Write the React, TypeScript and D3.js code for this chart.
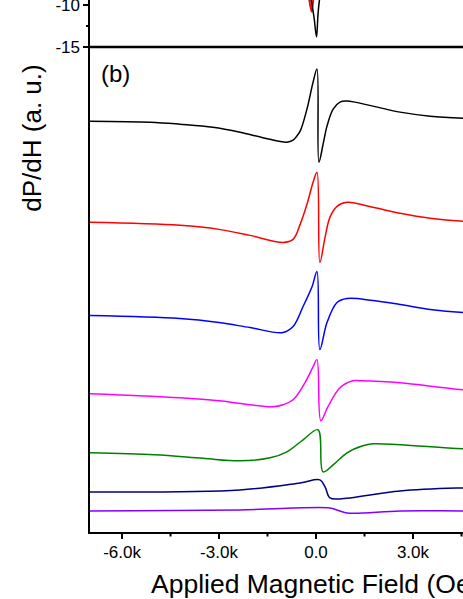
import React from 'react';
import * as d3 from 'd3';

const width = 463,
    height = 599,
    plotLeft = 89,
    plotRight = 542,
    bTop = 47,
    bBottom = 533,
    fontFamily = "Arial, 'Liberation Sans', sans-serif";

// applied field (Oe), dP/dH (a. u., offset stacked)
const trace1: [number, number][] = [
    [-7000, 41.1], [-5130, 41.0], [-4210, 40.8], [-3190, 40.5], [-2350, 40.0], [-1580, 39.4],
    [-900, 39.0], [-710, 39.2], [-620, 39.5], [-490, 40.1], [-280, 42.3], [-90, 45.0], [30, 46.3],
    [90, 37.0], [220, 38.8], [340, 40.6], [530, 42.3], [740, 43.0], [960, 43.1], [1760, 42.6],
    [2600, 42.0], [3530, 41.6], [4550, 41.4], [7000, 41.2],
];
const trace2: [number, number][] = [
    [-7000, 31.0], [-4210, 30.7], [-3000, 30.3], [-2040, 29.7], [-1020, 29.0], [-710, 29.3],
    [-490, 30.8], [-280, 32.8], [-90, 35.0], [30, 36.0], [120, 27.0], [280, 29.5], [430, 31.5],
    [650, 32.6], [960, 33.0], [1760, 32.5], [2600, 31.9], [3530, 31.4], [4550, 31.1], [7000, 30.9],
];
const trace3: [number, number][] = [
    [-7000, 21.7], [-4210, 21.4], [-3000, 21.0], [-2040, 20.5], [-1020, 20.0], [-710, 20.6],
    [-400, 22.6], [-120, 24.6], [30, 26.1], [120, 18.3], [340, 21.0], [650, 23.0], [960, 23.4],
    [1760, 23.2], [2600, 22.8], [3530, 22.3], [4550, 22.0], [7000, 21.8],
];
const trace4: [number, number][] = [
    [-7000, 13.9], [-4210, 13.5], [-3000, 13.2], [-2040, 12.8], [-1330, 12.6], [-1020, 12.8], [-710, 13.3],
    [-340, 15.0], [-90, 16.6], [30, 17.3], [150, 11.2], [370, 12.6], [740, 14.5], [1140, 15.2],
    [1360, 15.2], [2600, 15.0], [4550, 14.3], [7000, 13.9],
];
const trace5: [number, number][] = [
    [-7000, 8.0], [-5000, 7.8], [-3500, 7.45], [-2350, 7.2], [-1420, 7.5], [-900, 8.1], [-400, 9.3], [60, 10.3],
    [220, 6.1], [530, 6.8], [960, 8.0], [1450, 8.7], [1760, 8.9], [2600, 8.8], [4550, 8.4], [7000, 8.1],
];
const trace6: [number, number][] = [
    [-7000, 4.1], [-2350, 4.3], [-490, 5.0], [120, 5.3], [280, 4.6], [430, 3.5], [740, 3.4],
    [2600, 4.2], [4550, 4.5], [7000, 4.6],
];
const trace7: [number, number][] = [
    [-7000, 2.2], [-2350, 2.3], [430, 2.5], [650, 2.3], [960, 2.0], [2600, 2.2], [4550, 2.2], [7000, 2.2],
];
const traceColors = ["#000000", "#ff0000", "#0000ff", "#ff00ff", "#008000", "#000080", "#8000ff"];

// the bottom of panel (a), only the tail of its dip shows
const topBlack: [number, number][] = [[-170, -9.0], [-60, -11.5], [20, -13.8], [60, -11.2], [120, -9.0]];
const topRed: [number, number][] = [[-220, -9.0], [-130, -10.8], [-80, -9.0]];

const fieldMajor = [-6000, -3000, 0, 3000];
const fieldMinor = [-4500, -1500, 1500, 4500];
const topTicks = [-10, -15];
const topMinor = [-12.5];

const fmtField = (d: number) => (d === 0 ? "0.0" : `${(d / 1000).toFixed(1)}k`);

export default function App() {
    const x = d3.scaleLinear().domain([-7000, 7000]).range([89.7, 542.3]);
    const y = d3.scaleLinear().domain([0, 48.5]).range([bBottom, bTop]);
    const yTop = d3.scaleLinear().domain([-15, -10]).range([bTop, 5]);

    const line = d3.line<[number, number]>()
        .x((d) => x(d[0]))
        .y((d) => y(d[1]))
        .curve(d3.curveCatmullRom.alpha(0.5));
    const lineTop = d3.line<[number, number]>()
        .x((d) => x(d[0]))
        .y((d) => yTop(d[1]))
        .curve(d3.curveMonotoneX);

    const traces = [trace1, trace2, trace3, trace4, trace5, trace6, trace7];

    return (
        <div style={{ position: "absolute", left: 0, top: 0 }}>
            <svg width={width} height={height} style={{ display: "block", background: "#fff" }} fontFamily={fontFamily}>
                <defs>
                    <clipPath id="clipA"><rect x={plotLeft} y={0} width={plotRight - plotLeft} height={bTop} /></clipPath>
                    <clipPath id="clipB"><rect x={plotLeft} y={bTop} width={plotRight - plotLeft} height={bBottom - bTop} /></clipPath>
                </defs>

                {/* panel (a) remnant */}
                <g clipPath="url(#clipA)">
                    <path d={lineTop(topRed) || ""} fill="none" stroke="#ff0000" strokeWidth={2} />
                    <path d={lineTop(topBlack) || ""} fill="none" stroke="#000" strokeWidth={1.5} />
                </g>
                {topTicks.map((t) => (
                    <g key={t}>
                        <line x1={plotLeft - 6} x2={plotLeft} y1={yTop(t)} y2={yTop(t)} stroke="#000" strokeWidth={2} />
                        <text x={plotLeft - 9} y={yTop(t)} dy="0.36em" textAnchor="end" fontSize={17}>{t}</text>
                    </g>
                ))}
                {topMinor.map((t) => (
                    <line key={t} x1={plotLeft - 3} x2={plotLeft} y1={yTop(t)} y2={yTop(t)} stroke="#000" strokeWidth={2} />
                ))}
                <line x1={plotLeft} x2={plotLeft} y1={0} y2={bTop} stroke="#000" strokeWidth={2} />

                {/* panel (b) traces */}
                <g clipPath="url(#clipB)">
                    {traces.map((tr, i) => (
                        <path key={i} d={line(tr) || ""} fill="none" stroke={traceColors[i]} strokeWidth={1.5} />
                    ))}
                </g>

                {/* frame */}
                <line x1={plotLeft - 1} x2={width} y1={bTop} y2={bTop} stroke="#000" strokeWidth={2.5} />
                <line x1={plotLeft} x2={plotLeft} y1={bTop} y2={bBottom + 1} stroke="#000" strokeWidth={2} />
                <line x1={plotLeft - 1} x2={width} y1={bBottom} y2={bBottom} stroke="#000" strokeWidth={2} />

                {/* x axis ticks */}
                {fieldMajor.map((t) => (
                    <g key={t}>
                        <line x1={x(t)} x2={x(t)} y1={bBottom} y2={bBottom + 6} stroke="#000" strokeWidth={2} />
                        <text x={x(t)} y={558} textAnchor="middle" fontSize={17}>{fmtField(t)}</text>
                    </g>
                ))}
                {fieldMinor.map((t) => (
                    <line key={t} x1={x(t)} x2={x(t)} y1={bBottom} y2={bBottom + 3.5} stroke="#000" strokeWidth={2} />
                ))}

                <text x={101} y={82} fontSize={24}>(b)</text>

                <text transform="rotate(-90)" x={-138} y={41} textAnchor="middle" fontSize={26}>dP/dH (a. u.)</text>
                <text x={151} y={593} fontSize={26.5}>Applied Magnetic Field (Oe)</text>
            </svg>
        </div>
    );
}
